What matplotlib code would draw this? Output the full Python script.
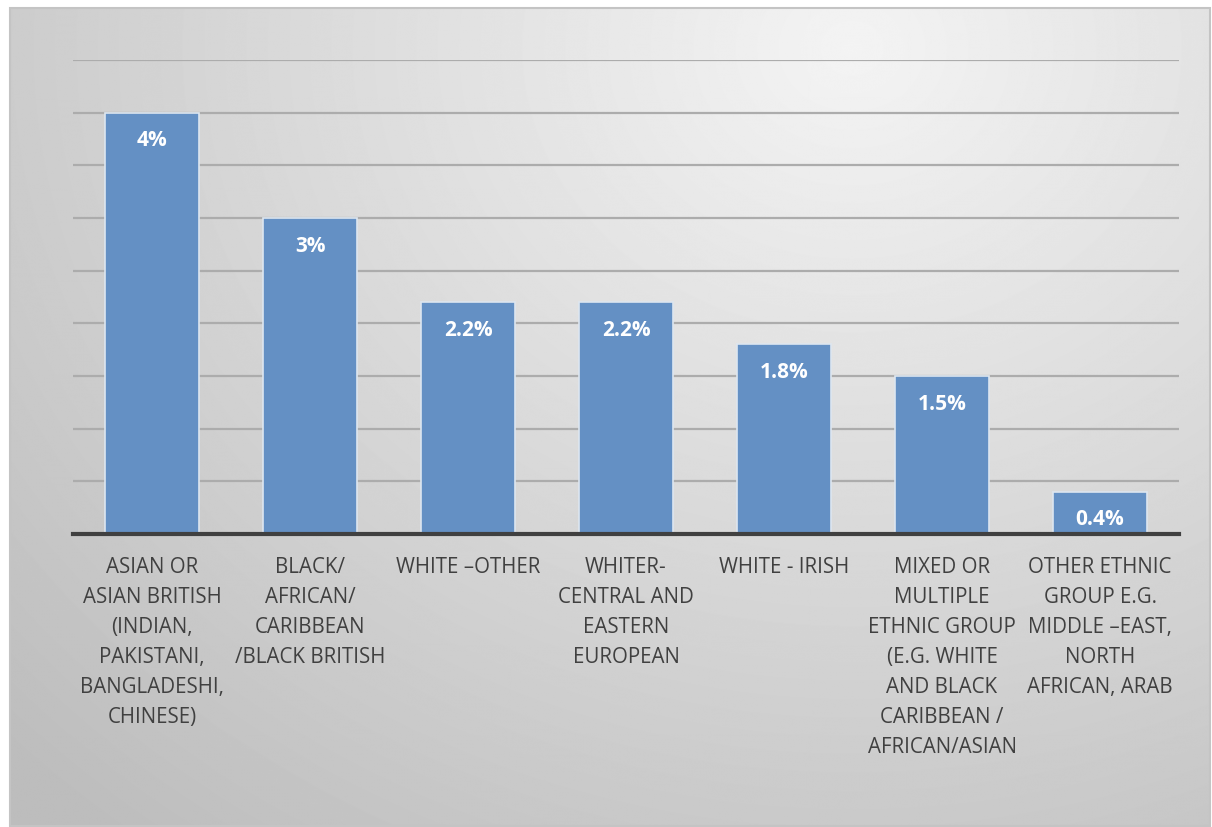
import numpy as np
import matplotlib.pyplot as plt
from matplotlib.patches import Rectangle

categories = [
    'ASIAN OR\nASIAN BRITISH\n(INDIAN,\nPAKISTANI,\nBANGLADESHI,\nCHINESE)',
    'BLACK/\nAFRICAN/\nCARIBBEAN\n/BLACK BRITISH',
    'WHITE \u2013OTHER',
    'WHITER-\nCENTRAL AND\nEASTERN\nEUROPEAN',
    'WHITE - IRISH',
    'MIXED OR\nMULTIPLE\nETHNIC GROUP\n(E.G. WHITE\nAND BLACK\nCARIBBEAN /\nAFRICAN/ASIAN',
    'OTHER ETHNIC\nGROUP E.G.\nMIDDLE \u2013EAST,\nNORTH\nAFRICAN, ARAB',
]
values = [4.0, 3.0, 2.2, 2.2, 1.8, 1.5, 0.4]
value_labels = ['4%', '3%', '2.2%', '2.2%', '1.8%', '1.5%', '0.4%']

W, H = 1212, 827
plt.rcParams['font.family'] = ['Open Sans', 'DejaVu Sans']

fig = plt.figure(figsize=(W / 100, H / 100), dpi=100)

# background: soft radial grey gradient inside a thin frame
bg = fig.add_axes([0, 0, 1, 1])
bg.axis('off')
yy, xx = np.mgrid[0:H, 0:W]
r = np.sqrt(((xx - 850) / 1100.0) ** 2 + ((yy - 40) / 950.0) ** 2)
shade = np.clip(0.955 - 0.2 * r, 0.74, 1.0)
bg.imshow(shade, cmap='gray', vmin=0, vmax=1, extent=(10, 1210, 826, 8),
          interpolation='bilinear')
bg.add_patch(Rectangle((10, 8), 1200, 818, fill=False, edgecolor='#c4c4c4', lw=1.5))
bg.set_xlim(0, W)
bg.set_ylim(H, 0)

ax = fig.add_axes([73 / W, 1 - 534 / H, (1179 - 73) / W, (534 - 60) / H])
ax.patch.set_alpha(0)
x = np.arange(len(values))
ax.set_xlim(-0.5, len(values) - 0.5)
ax.set_ylim(0, 4.5)
ax.set_yticks(np.arange(0.5, 4.51, 0.5))
ax.yaxis.grid(True, color='#acacac', lw=1.6)
ax.set_axisbelow(True)
ax.tick_params(left=False, labelleft=False, bottom=False, labelbottom=False)
for s in ['top', 'right', 'left']:
    ax.spines[s].set_visible(False)
ax.spines['bottom'].set_color('#404040')
ax.spines['bottom'].set_linewidth(3)
ax.spines['bottom'].set_zorder(5)

ax.bar(x, values, width=0.6, color='#6490c4', edgecolor='#dde6f0', lw=1.2, zorder=3)

for xi, v, lab in zip(x, values, value_labels):
    ax.annotate(lab, (xi, v), xytext=(0, -28), textcoords='offset pixels',
                ha='center', va='center', color='white', fontsize=15,
                fontweight='bold', zorder=6)

for xi, cat in zip(x, categories):
    ax.annotate(cat, (xi, 0), xytext=(0, -23), textcoords='offset pixels',
                ha='center', va='top', color='#404040', fontsize=14.8,
                linespacing=1.56, annotation_clip=False)

fig.savefig('out.png', dpi=100)
